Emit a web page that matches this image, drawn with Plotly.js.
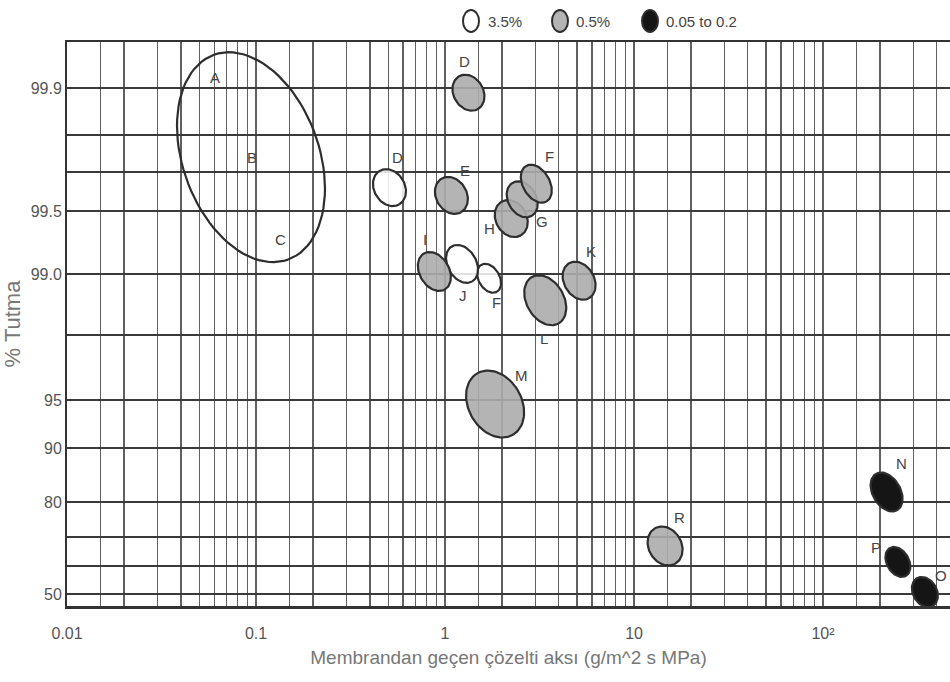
<!DOCTYPE html>
<html><head><meta charset="utf-8">
<script src="https://cdn.plot.ly/plotly-3.0.1.min.js"></script>
<style>html,body{margin:0;padding:0;background:#fff}#chart{width:950px;height:682px}</style>
</head><body><div id="chart"></div>
<script>
// ---------------- data ----------------
const regionName = ['A-C','D','D','E','H','G','F','F','J','I','L','K','M','R','N','P','O'];
const flux       = [0.094,0.508,1.33,1.08,2.24,2.56,3.04,1.71,1.23,0.878,3.39,5.12,1.84,14.6,217,249,346];
const retention  = [99.74,99.62,99.89,99.58,99.44,99.56,99.64,98.93,99.08,99.02,98.57,98.89,94.58,66.9,81.85,61.4,50.7];
const feedGroup  = ['range','3.5%','0.5%','0.5%','0.5%','0.5%','0.5%','3.5%','3.5%','0.5%','0.5%','0.5%','0.5%','0.5%','0.05 to 0.2','0.05 to 0.2','0.05 to 0.2'];

// region outline sizes (semi-axes in px) and tilt (deg from vertical)
const semiMajor = [108.9,19.4,18.9,19.4,19.4,19.1,20.5,15.6,20.3,20.8,26.8,20.1,35.5,20.4,21,16.1,15.9];
const semiMinor = [68.1,15.4,14.9,15.4,15.4,14.1,13.4,10.5,14.3,14.8,18.7,15.1,26.5,16.4,13.9,11,11.9];
const tiltDeg   = [19.9,30,30,30,30,30,30,30,30,30,30,30,30,30,30,30,30];

// labels: text, region index, offset px (dx right, dy down)
const labelText   = ['A','B','C','D','D','E','H','G','F','F','J','I','L','K','M','R','N','P','O'];
const labelRegion = [0,0,0,1,2,3,4,5,6,7,8,9,10,11,12,13,14,15,16];
const labelDx     = [-36,1,30,8,-4,14,-22,20,13,7,1,-9,-1,12,26,14,15,-22,16];
const labelDy     = [-80,0,82,-30,-31,-25,10,22,-27,24,32,-32,38,-29,-29,-28,-29,-14,-17];

const xTickVals = [0.01,0.1,1,10,100];
const xTickText = ['0.01','0.1','1','10','10\u00b2'];
const yTickLevels = [50,80,90,95,99,99.5,99.9];
const yTickText   = ['50','80','90','95','99.0','99.5','99.9'];
const legendGroups = ['3.5%','0.5%','0.05 to 0.2'];

// ---------------- chart paper (probability rulings) ----------------
const ruleLevels = [50,60,70,80,90,95,98,99,99.5,99.7,99.8,99.9];
const rulePos    = [12,40,69,104,158,206,271,332,395,434,471,518];
const uRange = [0,564];
function U(p){
  const n = ruleLevels.length;
  let i = 0;
  if (p <= ruleLevels[0]) i = 0;
  else if (p >= ruleLevels[n-1]) i = n-2;
  else { while (p > ruleLevels[i+1]) i++; }
  const f = (p - ruleLevels[i])/(ruleLevels[i+1]-ruleLevels[i]);
  return rulePos[i] + f*(rulePos[i+1]-rulePos[i]);
}
const xGrid = [];
[0.01,0.1,1,10,100].forEach(d=>[1,1.5,2,3,4,5,6,7,8,9].forEach(m=>{const v=+(d*m).toPrecision(3); if(v<=470) xGrid.push(v);}));
const xGridText = xGrid.map(v=>{const k=xTickVals.indexOf(v); return k>=0?xTickText[k]:'';});

const W=950,H=682, M={l:67,r:0,t:42,b:76};
const plotW=W-M.l-M.r, plotH=H-M.t-M.b;
const xRange=[-2.0005,2.672];
const pxPerDec = plotW/(xRange[1]-xRange[0]);
const pxPerU = plotH/(uRange[1]-uRange[0]);

const style = {
  'range': {fill:'none', fc:'rgba(0,0,0,0)'},
  '3.5%': {fill:'toself', fc:'rgba(255,255,255,0.85)'},
  '0.5%': {fill:'toself', fc:'rgba(172,172,172,0.9)'},
  '0.05 to 0.2': {fill:'toself', fc:'#151515'}
};

const traces = [];
for (let i=0;i<flux.length;i++){
  const Lc=Math.log10(flux[i]), Uc=U(retention[i]);
  const ph=tiltDeg[i]*Math.PI/180, a=semiMajor[i], b=semiMinor[i];
  const xs=[], ys=[];
  for (let k=0;k<=90;k++){
    const t=2*Math.PI*k/90;
    const dx = a*Math.cos(t)*Math.sin(ph) + b*Math.sin(t)*Math.cos(ph);
    const du = -a*Math.cos(t)*Math.cos(ph) + b*Math.sin(t)*Math.sin(ph);
    xs.push(Math.pow(10, Lc + dx/pxPerDec));
    ys.push(Uc + du/pxPerU);
  }
  const s=style[feedGroup[i]];
  traces.push({type:'scatter',mode:'lines',x:xs,y:ys,fill:s.fill,fillcolor:s.fc,
    line:{color:'#2e2e2e',width:2.2},hoverinfo:'skip',showlegend:false,name:regionName[i]});
}

const FONT='Liberation Sans, Arial, sans-serif';
const annotations = labelText.map((t,j)=>{
  const i=labelRegion[j];
  return {x:Math.log10(flux[i]), y:U(retention[i]), xref:'x', yref:'y', text:t, showarrow:false,
    xshift:labelDx[j], yshift:-labelDy[j], font:{family:FONT, size:15, color:'#444'}};
});

// legend (top)
const legX=[471,560,650], legTxt=[486,574,664];
const shapes=[];
legendGroups.forEach((g,k)=>{
  const s=style[g];
  shapes.push({type:'circle',xref:'paper',yref:'paper',xsizemode:'pixel',ysizemode:'pixel',
    xanchor:(legX[k]-M.l)/plotW, yanchor:(H-M.b-21)/plotH, x0:-8,x1:8,y0:-11,y1:11,
    fillcolor: g==='3.5%'?'#fff':s.fc, line:{color:'#2e2e2e',width:2}});
  annotations.push({xref:'paper',yref:'paper',x:(legTxt[k]-M.l)/plotW,y:(H-M.b-21)/plotH,xanchor:'left',yanchor:'middle',
    text:g,showarrow:false,font:{family:FONT,size:15,color:'#444'}});
});

const layout = {
  width:W,height:H,margin:M,paper_bgcolor:'#fff',plot_bgcolor:'#fff',showlegend:false,
  xaxis:{type:'log',range:xRange,tickmode:'array',tickvals:xGrid,ticktext:xGridText,
    showgrid:true,gridcolor:'#606060',gridwidth:1.3,zeroline:false,
    showline:true,mirror:true,linecolor:'#333',linewidth:2.5,
    ticks:'outside',ticklen:11,tickcolor:'rgba(0,0,0,0)',
    tickfont:{family:FONT,size:16,color:'#555'},
    title:{text:'Membrandan geçen çözelti aksı (g/m^2 s MPa)',standoff:10,
      font:{family:FONT,size:19,color:'#777'}}},
  yaxis:{type:'linear',range:uRange,tickmode:'array',tickvals:ruleLevels.map(U),
    ticktext:ruleLevels.map(p=>{const k=yTickLevels.indexOf(p);return k>=0?yTickText[k]:'';}),
    showgrid:true,gridcolor:'#3a3a3a',gridwidth:2,zeroline:false,
    showline:true,mirror:false,linecolor:'#333',linewidth:2,
    ticks:'',tickfont:{family:FONT,size:16,color:'#555'},
    title:{text:'% Tutma',standoff:4,font:{family:FONT,size:22,color:'#777'}}},
  shapes, annotations
};
Plotly.newPlot('chart',traces,layout,{displayModeBar:false,staticPlot:true});
</script></body></html>
